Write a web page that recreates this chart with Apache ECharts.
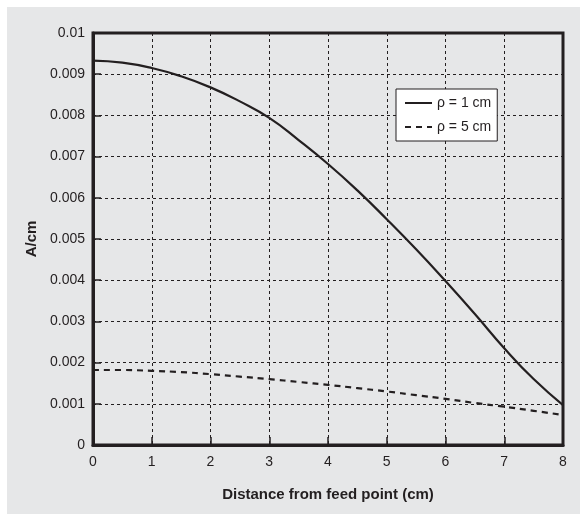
<!DOCTYPE html>
<html>
<head>
<meta charset="utf-8">
<script src="https://cdn.jsdelivr.net/npm/echarts@6/dist/echarts.min.js"></script>
<style>
html,body{margin:0;padding:0;background:#ffffff;}
#bg{position:absolute;left:7px;top:7px;width:573px;height:507px;background:#e6e7e8;}
#chart{position:absolute;left:0;top:0;width:580px;height:514px;}
</style>
</head>
<body>
<div id="bg"></div>
<div id="chart"></div>
<script>
const xValues = [0, 0.5, 1, 1.5, 2, 2.5, 3, 3.5, 4, 4.5, 5, 5.5, 6, 6.5, 7, 7.5, 8];
const rho1 = [0.00933, 0.00928, 0.00915, 0.00895, 0.00868, 0.00834, 0.00794, 0.00740, 0.00682, 0.00618, 0.00548, 0.00475, 0.00398, 0.00318, 0.00235, 0.00160, 0.00097];
const rho5 = [0.00182, 0.00182, 0.00180, 0.00177, 0.00172, 0.00166, 0.00160, 0.00153, 0.00146, 0.00138, 0.00130, 0.00121, 0.00112, 0.00102, 0.00093, 0.00083, 0.00073];
const seriesNames = ['ρ = 1 cm', 'ρ = 5 cm'];
const xTitle = 'Distance from feed point (cm)';
const yTitle = 'A/cm';

const ink = '#231f20';
const font = '"Liberation Sans", Arial, sans-serif';
const chart = echarts.init(document.getElementById('chart'));
const pair = (xs, ys) => xs.map((x, i) => [x, ys[i]]);

chart.setOption({
  animation: false,
  backgroundColor: 'transparent',
  grid: {left: 93, right: 17, top: 33, bottom: 69, show: true, borderColor: ink, borderWidth: 3, backgroundColor: 'transparent'},
  legend: {
    left: 396, top: 89, orient: 'vertical',
    backgroundColor: '#ffffff', borderColor: ink, borderWidth: 1,
    padding: [7, 6, 7, 8], itemGap: 10, itemWidth: 27, itemHeight: 12,
    itemStyle: {opacity: 0},
    textStyle: {fontFamily: font, fontSize: 14, color: ink},
    data: seriesNames
  },
  xAxis: {
    type: 'value', min: 0, max: 8, interval: 1,
    name: xTitle, nameLocation: 'middle', nameGap: 42,
    nameTextStyle: {fontFamily: font, fontSize: 15, fontWeight: 'bold', color: ink},
    axisLine: {show: true, lineStyle: {color: ink, width: 3}},
    axisTick: {show: true, inside: true, length: 8, lineStyle: {color: ink, width: 1.5}},
    axisLabel: {fontFamily: font, fontSize: 14, color: ink, margin: 10},
    splitLine: {show: true, lineStyle: {color: ink, width: 1, type: [3, 3]}}
  },
  yAxis: {
    type: 'value', min: 0, max: 0.01, interval: 0.001,
    name: yTitle, nameLocation: 'middle', nameGap: 53, nameRotate: 90,
    nameTextStyle: {fontFamily: font, fontSize: 15, fontWeight: 'bold', color: ink},
    axisLine: {show: true, lineStyle: {color: ink, width: 3}},
    axisTick: {show: true, inside: true, length: 8, lineStyle: {color: ink, width: 1.5}},
    axisLabel: {fontFamily: font, fontSize: 14, color: ink, margin: 8,
      formatter: v => parseFloat(v.toFixed(3)).toString()},
    splitLine: {show: true, lineStyle: {color: ink, width: 1, type: [3, 3]}}
  },
  series: [
    {name: seriesNames[0], type: 'line', smooth: true, symbol: 'none', data: pair(xValues, rho1),
     lineStyle: {color: ink, width: 2.2, type: 'solid'}, itemStyle: {color: ink}},
    {name: seriesNames[1], type: 'line', smooth: true, symbol: 'none', data: pair(xValues, rho5),
     lineStyle: {color: ink, width: 2.2, type: [6, 5]}, itemStyle: {color: ink}}
  ]
});
</script>
</body>
</html>
